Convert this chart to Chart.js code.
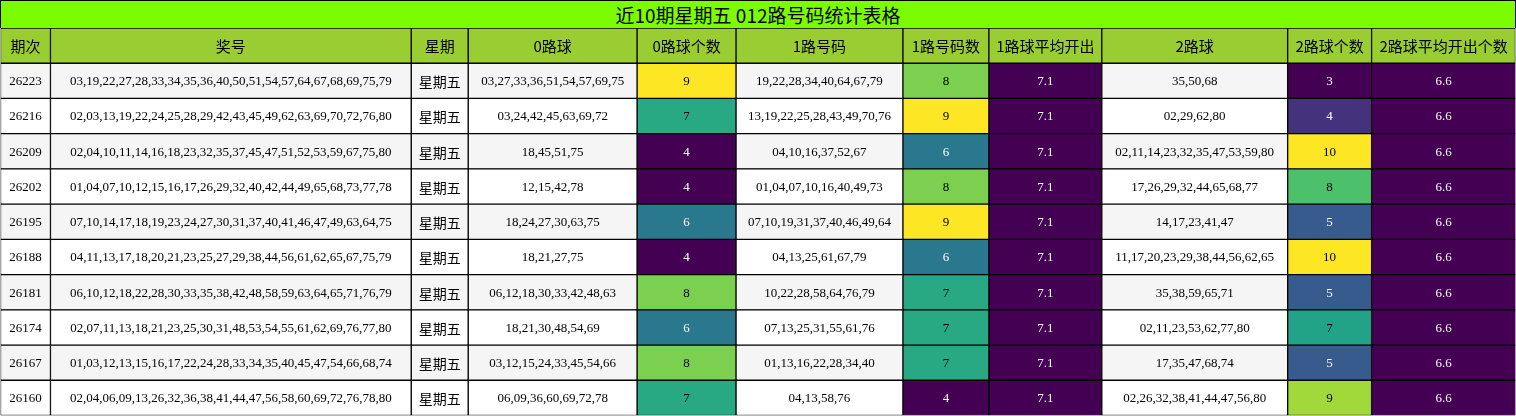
<!DOCTYPE html>
<html>
<head>
<meta charset="utf-8">
<script src="https://cdn.jsdelivr.net/npm/chart.js@4/dist/chart.umd.min.js"></script>
<style>
  body { margin: 0; background: #fff; }
  #title { height: 27px; line-height: 27px; background: #7cfc00; border: 1px solid #000; border-bottom: none;
           text-align: center; font: 19px "Noto Sans CJK SC", "Liberation Serif", serif; box-sizing: content-box; width: 1514px; }
  #wrap { width: 1516px; height: 388px; }
</style>
</head>
<body>
<div id="title">近10期星期五 012路号码统计表格</div>
<div id="wrap"><canvas id="tabla"></canvas></div>
<script>
// columnas de la tabla
const headers = ['期次', '奖号', '星期', '0路球', '0路球个数', '1路号码', '1路号码数', '1路球平均开出', '2路球', '2路球个数', '2路球平均开出个数'];
const periods = ['26223', '26216', '26209', '26202', '26195', '26188', '26181', '26174', '26167', '26160'];
const draws = [
    '03,19,22,27,28,33,34,35,36,40,50,51,54,57,64,67,68,69,75,79',
    '02,03,13,19,22,24,25,28,29,42,43,45,49,62,63,69,70,72,76,80',
    '02,04,10,11,14,16,18,23,32,35,37,45,47,51,52,53,59,67,75,80',
    '01,04,07,10,12,15,16,17,26,29,32,40,42,44,49,65,68,73,77,78',
    '07,10,14,17,18,19,23,24,27,30,31,37,40,41,46,47,49,63,64,75',
    '04,11,13,17,18,20,21,23,25,27,29,38,44,56,61,62,65,67,75,79',
    '06,10,12,18,22,28,30,33,35,38,42,48,58,59,63,64,65,71,76,79',
    '02,07,11,13,18,21,23,25,30,31,48,53,54,55,61,62,69,76,77,80',
    '01,03,12,13,15,16,17,22,24,28,33,34,35,40,45,47,54,66,68,74',
    '02,04,06,09,13,26,32,36,38,41,44,47,56,58,60,69,72,76,78,80'
];
const weekdays = periods.map(() => '星期五');
const route0 = ['03,27,33,36,51,54,57,69,75', '03,24,42,45,63,69,72', '18,45,51,75', '12,15,42,78', '18,24,27,30,63,75',
    '18,21,27,75', '06,12,18,30,33,42,48,63', '18,21,30,48,54,69', '03,12,15,24,33,45,54,66', '06,09,36,60,69,72,78'];
const count0 = [9, 7, 4, 4, 6, 4, 8, 6, 8, 7];
const route1 = ['19,22,28,34,40,64,67,79', '13,19,22,25,28,43,49,70,76', '04,10,16,37,52,67', '01,04,07,10,16,40,49,73',
    '07,10,19,31,37,40,46,49,64', '04,13,25,61,67,79', '10,22,28,58,64,76,79', '07,13,25,31,55,61,76', '01,13,16,22,28,34,40', '04,13,58,76'];
const count1 = [8, 9, 6, 8, 9, 6, 7, 7, 7, 4];
const avg1 = [7.1, 7.1, 7.1, 7.1, 7.1, 7.1, 7.1, 7.1, 7.1, 7.1];
const route2 = ['35,50,68', '02,29,62,80', '02,11,14,23,32,35,47,53,59,80', '17,26,29,32,44,65,68,77', '14,17,23,41,47',
    '11,17,20,23,29,38,44,56,62,65', '35,38,59,65,71', '02,11,23,53,62,77,80', '17,35,47,68,74', '02,26,32,38,41,44,47,56,80'];
const count2 = [3, 4, 10, 8, 5, 10, 5, 7, 5, 9];
const avg2 = [6.6, 6.6, 6.6, 6.6, 6.6, 6.6, 6.6, 6.6, 6.6, 6.6];

// bordes de columna (layout)
const colEdges = [0, 50, 411, 468, 637, 736, 903, 989, 1102, 1288, 1372, 1516];

const VIRIDIS = [[68,1,84],[72,40,120],[62,74,137],[49,104,142],[38,130,142],[31,158,137],[53,183,121],[109,205,89],[180,222,44],[253,231,37]];
function viridis(t) {
    t = Math.max(0, Math.min(1, t)) * (VIRIDIS.length - 1);
    const i = Math.min(Math.floor(t), VIRIDIS.length - 2), f = t - i;
    const c = VIRIDIS[i].map((v, k) => Math.round(v + (VIRIDIS[i + 1][k] - v) * f));
    return { color: `rgb(${c})`, dark: (0.299 * c[0] + 0.587 * c[1] + 0.114 * c[2]) < 120 };
}
function escala(vals) {
    const mn = Math.min(...vals), mx = Math.max(...vals);
    return vals.map(v => viridis(mx === mn ? 0 : (v - mn) / (mx - mn)));
}

const columnas = [periods, draws, weekdays, route0, count0, route1, count1, avg1, route2, count2, avg2];
const colorMaps = { 4: escala(count0), 6: escala(count1), 7: escala(avg1), 9: escala(count2), 10: escala(avg2) };

const rowLabels = ['header', ...periods];
const datasets = columnas.map((col, c) => {
    const textos = [headers[c], ...col.map(String)];
    const fondos = [], claros = [];
    rowLabels.forEach((_, r) => {
        if (r === 0) { fondos.push('#9acd32'); claros.push(false); return; }
        const m = colorMaps[c];
        if (m) { fondos.push(m[r - 1].color); claros.push(m[r - 1].dark); }
        else { fondos.push(r % 2 === 1 ? '#f5f5f5' : '#ffffff'); claros.push(false); }
    });
    return {
        data: rowLabels.map(() => [colEdges[c], colEdges[c + 1]]),
        backgroundColor: fondos,
        borderColor: '#000',
        borderWidth: 1,
        borderSkipped: false,
        grouped: false,
        barPercentage: 1,
        categoryPercentage: 1,
        textos, claros
    };
});

const textoCeldas = {
    id: 'textoCeldas',
    afterDatasetsDraw(chart) {
        const ctx = chart.ctx;
        ctx.save();
        ctx.textAlign = 'center';
        ctx.textBaseline = 'middle';
        chart.data.datasets.forEach((ds, i) => {
            chart.getDatasetMeta(i).data.forEach((el, r) => {
                ctx.font = r === 0 ? '15px "Noto Sans CJK SC", serif' : '13px "Liberation Serif", "Noto Sans CJK SC", serif';
                if (r > 0 && i === 2) ctx.font = '14px "Noto Sans CJK SC", serif';
                ctx.fillStyle = ds.claros[r] ? '#fff' : '#000';
                ctx.fillText(ds.textos[r], (el.x + el.base) / 2, el.y + 1);
            });
        });
        ctx.restore();
    }
};

new Chart(document.getElementById('tabla'), {
    type: 'bar',
    data: { labels: rowLabels, datasets },
    options: {
        indexAxis: 'y',
        responsive: true,
        maintainAspectRatio: false,
        animation: false,
        layout: { padding: { left: 0.5, right: 0.5, top: 0, bottom: 0.5 } },
        scales: {
            x: { type: 'linear', min: 0, max: 1516, display: false },
            y: { display: false }
        },
        plugins: { legend: { display: false }, tooltip: { enabled: false } }
    },
    plugins: [textoCeldas]
});
</script>
</body>
</html>
